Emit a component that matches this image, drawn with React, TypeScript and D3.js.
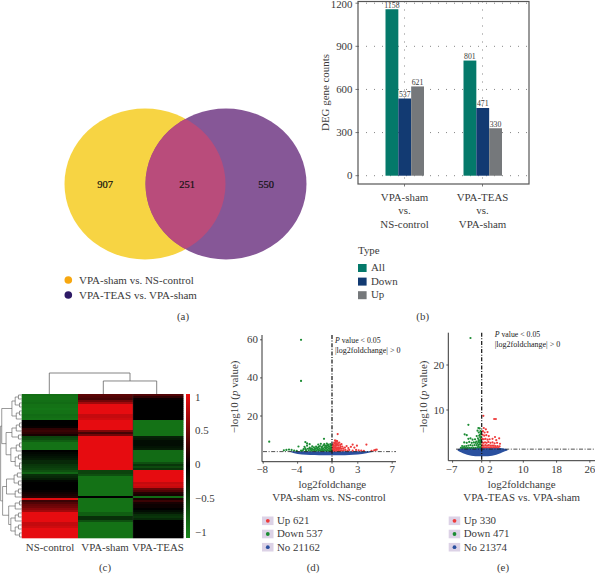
import React from "react";
import * as d3 from "d3";

const FONT = "'Liberation Serif', serif";
const INK = "#3a3a3a";

// (a) Venn
const vennCounts = [907, 251, 550];
const vennLegend = ["VPA-sham vs. NS-control", "VPA-TEAS vs. VPA-sham"];

// (b) Bars
const barCategories = [["VPA-sham", "vs.", "NS-control"], ["VPA-TEAS", "vs.", "VPA-sham"]];
const barTypes = ["All", "Down", "Up"];
const barAll = [1158, 801];
const barDown = [537, 471];
const barUp = [621, 330];
const barTicks = [0, 300, 600, 900, 1200];
const barColors = ["#04796a", "#123a72", "#75787b"];

// (c) Heatmap
const heatColumns = ["NS-control", "VPA-sham", "VPA-TEAS"];
const heatNS = [-.82,-.85,-.85,-.83,-.8,-.85,-.85,-.88,-.85,-.85,-.8,-.82,-.85,0,0,0,.03,.2,.25,.2,.1,-.5,-.55,-.7,-.85,-.85,-.85,-.85,0,-.05,-.1,-.15,-.2,-.3,-.3,-.4,-.45,-.5,-.6,-.75,-.35,-.3,-.2,-.05,0,0,0,0,.03,.08,.12,.18,1,.25,.35,.45,.5,.6,.7,1,1,1,1,1,.85,.85,.9,1,1,1,1,1];
const heatSham = [.4,.35,.3,.5,.7,1,1,1,1,1,.85,.85,.9,1,1,1,1,1,.55,.3,.5,1,1,1,1,1,1,1,1,1,1,1,1,1,1,1,1,1,-.5,-.5,-.6,-.85,-.85,-.85,-.85,-.85,-.85,-.85,-.85,-.85,-.85,0,-.85,-.85,-.85,-.85,-.85,-.85,-.85,-.7,-.7,-.35,-.35,-.6,-.85,-.85,-.85,-.85,-.85,-.85,-.85,-.85];
const heatTeas = [.35,.2,.04,0,0,0,0,0,0,0,0,0,0,-.85,-.85,-.85,-.85,-.85,-.85,-.85,-.85,-.25,-.2,-.1,-.1,-.1,-.15,-.2,-.8,-.8,-.8,-.8,-.8,-.8,-.6,-.4,-.55,-.4,1,1,1,1,1,1,.85,.9,.85,.45,.35,.15,.1,-.8,.1,.25,.1,.05,.05,0,-.1,-.2,-.35,-.4,-.3,0,0,0,0,0,0,0,0,0];
const heatTicks = [1, 0.5, 0, -0.5, -1];
type Tree = number | [number, Tree, Tree];
const rowTree: Tree = [.97,
  [.92,
    [.45, [.3, [.15, 0, 2], [.1, 4, 6]], [.25, [.1, 8, 10], 12]],
    [.72,
      [.45, [.25, [.1, 14, 16], 18], [.15, 20, 22]],
      [.5, [.25, [.1, 24, 26], 28], [.3, [.15, 30, 32], [.1, 34, 37]]]]],
  [.88,
    [.7, [.35, [.2, 39, 41], [.15, 43, 45]], [.3, [.15, 47, 49], 51]],
    [.6, [.3, [.1, 53, 55], 57], [.5, [.3, [.15, 59, 61], 63], [.3, [.15, 65, 67], [.1, 69, 71]]]]]];

// (d) Volcano VPA-sham vs. NS-control
const dXTicks = [-8, -4, 0, 3, 7];
const dYTicks = [20, 40, 60];
const dGreen = [[-7.3,6.5],[-3.6,60],[-3.6,38.4],[-.93,8],[-3.1,6.3],[-2.6,5.2],[-2.9,5.6],[-1.6,5],[-2.3,4.1],[-5.6,2],[-5.3,2.2],[-5,2.4],[-4.7,2.2],[-4.4,1.9],[-4.1,1.7],[-3.9,4],[-3.2,3.8],[-3.1,3],[-3.05,2.3],[-3,1.8],[-2.9,4.4],[-2.8,2.8],[-2.7,2],[-2.6,3.4],[-2.5,2.4],[-2.4,1.8],[-2.35,3],[-2.2,2.2],[-2.1,3.6],[-2,2],[-1.95,2.8],[-1.85,4],[-1.8,1.8],[-1.7,2.5],[-1.65,3.3],[-1.5,2],[-1.45,2.9],[-1.4,4.2],[-1.3,1.8],[-1.25,2.5],[-1.2,3.4],[-1.1,2.1],[-1.05,3],[-1,4.6],[-.95,1.8],[-.9,2.5],[-.85,3.6],[-.75,2],[-.7,2.9],[-.65,4.2],[-.6,1.7],[-.55,2.4],[-.5,3.4],[-.45,5],[-.4,1.9],[-.35,2.8],[-.3,4],[-.25,1.7],[-.2,2.3],[-.18,3.2],[-.15,4.6],[-.12,1.8],[-.1,2.6],[-.08,3.6],[-.05,2],[-.9,5.2],[-1.3,5.4],[-.6,5.5],[-1.9,3],[-2.3,2.5],[-.3,3],[-.4,4.2],[-.7,3.6],[-1.6,2.2],[-1.2,2.4],[-.2,5.2],[-.12,4.4],[-.55,4.6],[-.8,4.4],[-1.15,4],[-1.55,3.8],[-2.55,2.9],[-3.3,2.6],[-3.4,1.9],[-3.6,1.8],[-2.05,2.6],[-1.75,3.2]];
const dRed = [[.66,10.5],[.35,7.2],[.45,6.4],[.6,6.8],[.3,5.6],[.5,5.2],[.7,5.8],[.85,6],[.2,4.6],[.35,4.2],[.55,4.4],[.75,4.6],[.95,4.8],[1.1,5.2],[.1,3.6],[.25,3.4],[.4,3.6],[.6,3.4],[.8,3.6],[1,3.8],[1.2,4],[.1,2.6],[.3,2.4],[.5,2.6],[.7,2.5],[.9,2.7],[1.1,2.8],[1.3,3],[1.5,3.4],[.15,1.8],[.35,1.7],[.55,1.8],[.75,1.7],[.95,1.8],[1.15,1.9],[1.35,2],[1.55,2.2],[1.7,4.2],[1.9,3.2],[2,2.2],[2.2,3.8],[2.4,5],[2.6,3.4],[2.8,2.2],[2.9,4.4],[3.1,2],[4,5],[3.4,1.8],[3.7,1.7],[4.9,2],[5.05,2.2],[5.2,2.4],[4.6,1.7],[1.8,1.8],[2.4,1.8],[.15,5],[.25,6],[.45,5.8],[.12,4.2],[.42,4.8],[.65,5],[.2,3],[.45,3],[.7,3],[.95,3.2],[.5,7]];
const dBlobLfc = [-5,-4.5,-4,-3,-2,-1,0,1,2,3,4,4.8];
const dBlobTop = [1.4,1.5,1.5,1.5,1.5,1.5,1.5,1.5,1.5,1.5,1.5,1.4];
const dBlobBottom = [1.2,.6,.1,-.3,-.5,-.6,-.6,-.6,-.5,-.2,.4,1.2];
const dLegend = ["Up 621", "Down 537", "No 21162"];

// (e) Volcano VPA-TEAS vs. VPA-sham
const eXTicks = [-7, 0, 2, 10, 18, 26];
const eYTicks = [10, 20];
const eGreen = [[-2.7,26],[-3.2,6.7],[-.8,6],[-.5,5.9],[-1,5.4],[-.3,5.3],[-.7,5],[-4.1,4.6],[-3.6,4.4],[-.4,4.5],[-1.2,4.2],[-.2,4.8],[-.6,4.3],[-3.2,3.6],[-2.7,3.7],[-2.2,3.4],[-1.6,3.5],[-.9,3.7],[-.3,3.8],[-.5,3.2],[-.1,3.5],[-4.2,2.8],[-3.6,2.7],[-3,2.9],[-2.4,2.7],[-1.9,2.8],[-1.3,3],[-.8,2.9],[-.2,2.9],[-4.7,2],[-4.2,1.9],[-3.7,2],[-3.2,2.1],[-2.7,2.2],[-2.2,2.1],[-1.7,2.2],[-1.2,2.2],[-.7,2.3],[-.4,2.4],[-.15,2.3],[-5,1.6],[-4.5,1.6],[-4,1.6],[-3.5,1.6],[-3,1.6],[-2.5,1.6],[-2,1.6],[-1.5,1.6],[-1,1.7],[-.6,1.7],[-.3,1.7],[-.1,1.8],[-.8,2],[-.45,2.8],[-.25,3.3],[-.12,4.1],[-.15,5.2],[-.35,4],[-.75,3.3],[-1.05,2.6],[-1.5,2.7]];
const eRed = [[.4,8.7],[3,8],[3.4,8],[.5,6],[1,5.7],[.3,5.3],[.7,5],[1.4,5.1],[.2,4.5],[.6,4.3],[1.1,4.4],[1.7,4.2],[3.2,4],[4.2,3.7],[.15,3.6],[.5,3.5],[.9,3.6],[1.4,3.4],[1.9,3.5],[2.6,3.6],[3.5,3.3],[.1,2.8],[.4,2.7],[.8,2.8],[1.2,2.7],[1.6,2.9],[2.1,2.7],[2.6,2.8],[3.1,2.6],[3.7,2.7],[4.4,2.5],[.15,2.2],[.5,2.1],[.9,2.2],[1.3,2.1],[1.7,2.2],[2.1,2.1],[2.5,2.1],[2.9,2.1],[3.3,2],[3.8,2],[4.3,1.9],[.1,1.7],[.4,1.7],[.8,1.7],[1.2,1.7],[1.6,1.7],[2,1.7],[2.4,1.7],[2.8,1.7],[3.2,1.7],[3.6,1.7],[4,1.7]];
const eBlobLfc = [-5.8,-5,-4,-3,-2,-1,0,1,2,3,4,5,6.2];
const eBlobTop = [1.3,1.5,1.6,1.6,1.6,1.6,1.6,1.6,1.6,1.6,1.6,1.5,1.3];
const eBlobBottom = [1,.6,.2,-.05,-.2,-.25,-.25,-.25,-.2,-.05,.2,.6,1];
const eLegend = ["Up 330", "Down 471", "No 21374"];

const heatColor = d3.scaleLinear<string>().domain([-1, 0, 1]).range(["#17861a", "#000000", "#e60c10"]).clamp(true);

function Txt(p: any) {
  return <text fontFamily={FONT} fontSize={10.9} fill={INK} {...p} />;
}

function Venn() {
  const cx = d3.scaleLinear().domain([0, 1]).range([145, 226]);
  const rx = 80.5, ry = 75.5, cy = 184;
  const labelX = [105, 187, 266];
  return (
    <g>
      <defs>
        <clipPath id="vennL"><ellipse cx={cx(0)} cy={cy} rx={rx} ry={ry} /></clipPath>
      </defs>
      <ellipse cx={cx(0)} cy={cy} rx={rx} ry={ry} fill="#f7d443" />
      <ellipse cx={cx(1)} cy={cy} rx={rx} ry={ry} fill="#865797" />
      <ellipse cx={cx(1)} cy={cy} rx={rx} ry={ry} fill="#b94c7b" clipPath="url(#vennL)" />
      {vennCounts.map((c, i) => (
        <Txt key={c} x={labelX[i]} y={187.5} textAnchor="middle" fontSize={10.5} fill="#111" stroke="#111" strokeWidth={0.2}>{c}</Txt>
      ))}
      {vennLegend.map((t, i) => (
        <g key={t}>
          <circle cx={68.3} cy={280 + i * 15} r={3.8} fill={i === 0 ? "#f7a70f" : "#2e1a66"} />
          <Txt x={79} y={283.5 + i * 15} fontSize={11}>{t}</Txt>
        </g>
      ))}
      <Txt x={183} y={319.5} textAnchor="middle">(a)</Txt>
    </g>
  );
}

function Bars() {
  const y = d3.scaleLinear().domain([0, 1200]).range([175.7, 3.2]);
  const x0 = d3.scaleBand<number>().domain([0, 1]).range([365.5, 521.5]).paddingInner(0).paddingOuter(0);
  const x1 = d3.scaleBand<number>().domain([0, 1, 2]).range([-19, 19.5]);
  const series = [barAll, barDown, barUp];
  const c = (i: number) => (x0(i) as number) + x0.bandwidth() / 2;
  return (
    <g>
      {barTicks.map((t) => (
        <g key={t}>
          <line x1={358} x2={529} y1={y(t)} y2={y(t)} stroke="#777" strokeWidth={0.9} strokeDasharray="1 7" />
          <line x1={355.5} x2={358} y1={y(t)} y2={y(t)} stroke="#555" strokeWidth={0.8} />
          <Txt x={352.5} y={Math.max(y(t) + 3.5, 8.4)} textAnchor="end">{t}</Txt>
        </g>
      ))}
      {barCategories.map((_, i) => (
        <line key={i} x1={c(i)} x2={c(i)} y1={1.5} y2={184} stroke="#777" strokeWidth={0.9} strokeDasharray="1 7" />
      ))}
      {series.map((s, k) =>
        s.map((v, i) => (
          <g key={`${k}-${i}`}>
            <rect x={c(i) + (x1(k) as number)} y={y(v)} width={x1.bandwidth()} height={y(0) - y(v)} fill={barColors[k]} />
            <Txt x={c(i) + (x1(k) as number) + x1.bandwidth() / 2} y={y(v) - 1.6} textAnchor="middle" fontSize={7.8}>{v}</Txt>
          </g>
        ))
      )}
      <rect x={358} y={1.5} width={171} height={182.5} fill="none" stroke="#555" strokeWidth={1.2} />
      {barCategories.map((lines, i) => (
        <g key={i}>
          <line x1={c(i)} x2={c(i)} y1={184} y2={186.5} stroke="#555" strokeWidth={0.8} />
          {lines.map((l, j) => (
            <Txt key={j} x={c(i)} y={200.5 + j * 13.6} textAnchor="middle">{l}</Txt>
          ))}
        </g>
      ))}
      <Txt transform="translate(329,92.5) rotate(-90)" textAnchor="middle" fontSize={10.9}>DEG gene counts</Txt>
      <Txt x={358} y={254}>Type</Txt>
      {barTypes.map((t, i) => (
        <g key={t}>
          <rect x={358} y={264 + i * 13.6} width={8.6} height={8} fill={barColors[i]} />
          <Txt x={371} y={271 + i * 13.6}>{t}</Txt>
        </g>
      ))}
      <Txt x={422.7} y={319.5} textAnchor="middle">(b)</Txt>
    </g>
  );
}

function Heat() {
  const rows = d3.scaleLinear().domain([0, heatNS.length]).range([394, 538]);
  const cols = d3.scaleLinear().domain([0, 1, 2, 3]).range([21.7, 78, 133, 183.5]);
  const colData = [heatNS, heatSham, heatTeas];
  const labelX = [50, 105, 158];
  const depth = d3.scaleLinear().domain([0, 1]).range([21.7, 0]);
  const rowMid = (i: number) => rows(i) + (rows(1) - rows(0)) / 2;
  const segs: string[] = [];
  const walk = (t: Tree): [number, number] => {
    if (typeof t === "number") return [depth(0), rowMid(t)];
    const a = walk(t[1]);
    const b = walk(t[2]);
    const hx = depth(t[0]);
    const p = d3.path();
    p.moveTo(a[0], a[1]);
    p.lineTo(hx, a[1]);
    p.lineTo(hx, b[1]);
    p.lineTo(b[0], b[1]);
    segs.push(p.toString());
    return [hx, (a[1] + b[1]) / 2];
  };
  walk(rowTree);
  const barY = d3.scaleLinear().domain([1, -1]).range([397, 532]);
  // column dendrogram, heights
  const colCenter = (i: number) => [49.3, 103.3, 156.7][i];
  const colTop = d3.scaleLinear().domain([0, 1]).range([394, 373]);
  const topPath = d3.path();
  topPath.moveTo(colCenter(1), colTop(0));
  topPath.lineTo(colCenter(1), colTop(0.62));
  topPath.lineTo(colCenter(2), colTop(0.62));
  topPath.lineTo(colCenter(2), colTop(0));
  topPath.moveTo(colCenter(0), colTop(0));
  topPath.lineTo(colCenter(0), colTop(1));
  topPath.lineTo(130, colTop(1));
  topPath.lineTo(130, colTop(0.62));
  return (
    <g>
      <defs>
        <linearGradient id="hbar" x1="0" x2="0" y1="0" y2="1">
          <stop offset="0" stopColor="#ee0c10" />
          <stop offset="0.5" stopColor="#000" />
          <stop offset="1" stopColor="#17861a" />
        </linearGradient>
      </defs>
      {colData.map((vals, c) =>
        vals.map((v, r) => (
          <rect key={`${c}-${r}`} x={cols(c)} y={rows(r)} width={cols(c + 1) - cols(c)} height={rows(1) - rows(0) + 0.3} fill={heatColor(v)} />
        ))
      )}
      <line x1={cols(2)} x2={cols(2)} y1={394} y2={538} stroke="#333" strokeWidth={0.6} opacity={0.7} />
      <path d={topPath.toString()} fill="none" stroke="#666" strokeWidth={0.8} />
      {segs.map((d, i) => (
        <path key={i} d={d} fill="none" stroke="#555" strokeWidth={0.6} />
      ))}
      <rect x={186} y={394} width={4} height={144} fill="url(#hbar)" />
      {heatTicks.map((t) => (
        <Txt key={t} x={195} y={barY(t) + 3.5}>{t < 0 ? `\u2212${Math.abs(t)}` : t}</Txt>
      ))}
      {heatColumns.map((t, i) => (
        <Txt key={t} x={labelX[i]} y={550.5} textAnchor="middle">{t}</Txt>
      ))}
      <Txt x={105} y={571} textAnchor="middle">(c)</Txt>
    </g>
  );
}

function Volcano(p: any) {
  const x = d3.scaleLinear().domain([0, 1]).range([p.x0, p.x0 + p.xUnit]);
  const y = d3.scaleLinear().domain([0, 1]).range([p.y0, p.y0 - p.yUnit]);
  const blob = d3.area<number>()
    .x((_, i) => x(p.blobLfc[i]))
    .y0((_, i) => y(p.blobBottom[i]))
    .y1((_, i) => y(p.blobTop[i]))
    .curve(d3.curveMonotoneX);
  const dash = "4 1.6 1 1.6";
  const fmt = (t: number) => (t < 0 ? `\u2212${Math.abs(t)}` : `${t}`);
  return (
    <g>
      <path d={blob(p.blobLfc) as string} fill="#2a509f" />
      {p.green.map((d: number[], i: number) => (
        <circle key={i} cx={x(d[0])} cy={y(d[1])} r={1.1} fill="#1c8c34" />
      ))}
      {p.red.map((d: number[], i: number) => (
        <circle key={i} cx={x(d[0])} cy={y(d[1])} r={1.1} fill="#ee3b3b" />
      ))}
      <line x1={p.thrX0} x2={p.thrX1} y1={y(1.3)} y2={y(1.3)} stroke="#222" strokeWidth={0.8} strokeDasharray={dash} />
      <line x1={x(0)} x2={x(0)} y1={p.top} y2={p.axisY} stroke="#111" strokeWidth={1.2} strokeDasharray={dash} />
      <line x1={p.axisX} x2={p.axisX} y1={p.top} y2={p.axisY} stroke="#333" strokeWidth={1} />
      <line x1={p.axisX} x2={p.right} y1={p.axisY} y2={p.axisY} stroke="#333" strokeWidth={1} />
      {p.xTicks.map((t: number) => (
        <g key={t}>
          <line x1={x(t)} x2={x(t)} y1={p.axisY} y2={p.axisY + 2} stroke="#333" strokeWidth={0.8} />
          <Txt x={x(t) + (t < 0 ? -1 : 0)} y={472.5} textAnchor="middle">{fmt(t)}</Txt>
        </g>
      ))}
      {p.yTicks.map((t: number) => (
        <g key={t}>
          <line x1={p.axisX - 2} x2={p.axisX} y1={y(t)} y2={y(t)} stroke="#333" strokeWidth={0.8} />
          <Txt x={p.axisX - 4} y={y(t) + 3.5} textAnchor="end">{t}</Txt>
        </g>
      ))}
      <Txt transform={`translate(${p.yLabelX},397) rotate(-90)`} textAnchor="middle">
        {"\u2212log10 ("}<tspan fontStyle="italic">p</tspan>{" value)"}
      </Txt>
      <Txt x={p.titleX} y={487.7} textAnchor="middle">log2foldchange</Txt>
      <Txt x={p.subX} y={501.3} textAnchor="middle">{p.subtitle}</Txt>
      <Txt x={p.noteX} y={p.noteY} fontSize={7.8} fill="#222">
        <tspan fontStyle="italic">P</tspan>{" value < 0.05"}
      </Txt>
      <Txt x={p.noteX} y={p.noteY + 10} fontSize={8} fill="#222">{"|log2foldchange| > 0"}</Txt>
      {p.legend.map((t: string, i: number) => (
        <g key={t}>
          <rect x={p.legendX} y={516.5 + i * 13.2} width={11.5} height={8.6} fill="#dcd2e6" />
          <circle cx={p.legendX + 5.8} cy={520.8 + i * 13.2} r={1.9} fill={["#ee3b3b", "#1c8c34", "#2a509f"][i]} />
          <Txt x={p.legendX + 15} y={524.2 + i * 13.2} fontSize={10.9}>{t}</Txt>
        </g>
      ))}
      <Txt x={p.panelX} y={571} textAnchor="middle">{p.panel}</Txt>
    </g>
  );
}

export default function App() {
  return (
    <svg width={595} height={574} viewBox="0 0 595 574" style={{ position: "absolute", left: 0, top: 0, background: "#fff" }}>
      <Venn />
      <Bars />
      <Heat />
      <Volcano x0={332} xUnit={8.6} y0={454.1} yUnit={1.905} top={335} axisX={262} axisY={461.7} right={396}
        thrX0={263} thrX1={396} xTicks={dXTicks} yTicks={dYTicks} green={dGreen} red={dRed}
        blobLfc={dBlobLfc} blobTop={dBlobTop} blobBottom={dBlobBottom} yLabelX={238} titleX={332.3} subX={329}
        subtitle="VPA-sham vs. NS-control" noteX={335} noteY={343} legend={dLegend} legendX={262} panelX={313} panel="(d)" />
      <Volcano x0={481.7} xUnit={4.16} y0={455} yUnit={4.5} top={332.7} axisX={448.3} axisY={460.7} right={595}
        thrX0={456} thrX1={595} xTicks={eXTicks} yTicks={eYTicks} green={eGreen} red={eRed}
        blobLfc={eBlobLfc} blobTop={eBlobTop} blobBottom={eBlobBottom} yLabelX={426.5} titleX={521.7} subX={521.7}
        subtitle="VPA-TEAS vs. VPA-sham" noteX={494.7} noteY={337.3} legend={eLegend} legendX={448.7} panelX={503} panel="(e)" />
    </svg>
  );
}
